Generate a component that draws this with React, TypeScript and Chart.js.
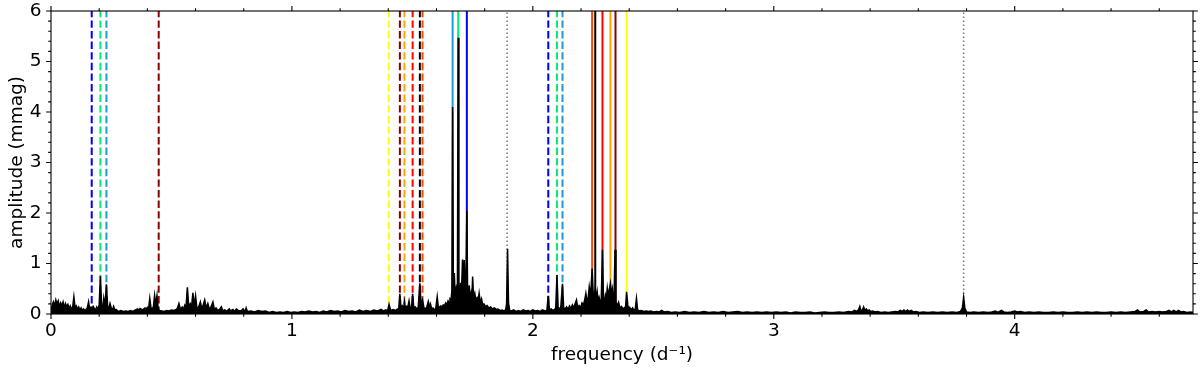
import React, { useEffect, useRef } from "react";
import { Chart, registerables } from "chart.js";

Chart.register(...registerables);

// ---------- axis ranges / tick labels ----------
const X_MIN = 0;
const X_MAX = 4.74;
const Y_MIN = 0;
const Y_MAX = 6;
const xTickValues = [0, 1, 2, 3, 4];
const yTickValues = [0, 1, 2, 3, 4, 5, 6];
const xTitle = "frequency (d\u207B\u00B9)";
const yTitle = "amplitude (mmag)";

// ---------- amplitude spectrum [frequency, amplitude] ----------
const spectrumLow: [number, number][] = [
  [0.000, 0.05], [0.005, 0.18], [0.010, 0.24], [0.015, 0.16], [0.020, 0.28], [0.025, 0.20],
  [0.030, 0.26], [0.035, 0.14], [0.040, 0.22], [0.045, 0.17], [0.050, 0.24], [0.055, 0.12],
  [0.060, 0.21], [0.065, 0.15], [0.070, 0.19], [0.075, 0.11], [0.080, 0.16], [0.085, 0.09],
  [0.090, 0.14], [0.095, 0.34], [0.100, 0.12], [0.105, 0.16], [0.110, 0.10], [0.115, 0.14],
  [0.120, 0.08], [0.125, 0.12], [0.130, 0.07], [0.135, 0.10], [0.140, 0.07], [0.145, 0.09],
  [0.150, 0.11], [0.156, 0.24], [0.160, 0.10], [0.165, 0.13], [0.170, 0.09], [0.175, 0.15],
  [0.180, 0.11], [0.185, 0.08], [0.190, 0.14], [0.195, 0.10], [0.200, 0.18], [0.205, 0.75],
  [0.210, 0.16], [0.215, 0.12], [0.219, 0.31], [0.224, 0.14], [0.230, 0.59], [0.235, 0.16],
  [0.240, 0.10], [0.245, 0.21], [0.250, 0.12], [0.255, 0.08], [0.260, 0.15], [0.265, 0.07],
  [0.270, 0.09], [0.280, 0.05], [0.290, 0.07], [0.300, 0.05], [0.310, 0.06], [0.320, 0.05],
  [0.330, 0.07], [0.340, 0.05], [0.350, 0.08], [0.360, 0.10], [0.365, 0.07], [0.370, 0.11],
  [0.380, 0.08], [0.390, 0.12], [0.395, 0.09], [0.400, 0.13], [0.405, 0.10], [0.410, 0.31],
  [0.415, 0.12], [0.420, 0.10], [0.425, 0.14], [0.430, 0.37], [0.435, 0.18], [0.440, 0.36],
  [0.445, 0.10], [0.450, 0.07], [0.460, 0.06], [0.470, 0.05], [0.480, 0.07], [0.490, 0.06],
  [0.500, 0.08], [0.510, 0.07], [0.520, 0.09], [0.525, 0.12], [0.531, 0.21], [0.537, 0.10],
  [0.545, 0.14], [0.550, 0.09], [0.555, 0.17], [0.560, 0.12], [0.566, 0.53], [0.572, 0.14],
  [0.578, 0.20], [0.583, 0.12], [0.589, 0.42], [0.594, 0.15], [0.600, 0.36], [0.605, 0.14],
  [0.610, 0.10], [0.615, 0.17], [0.620, 0.24], [0.625, 0.12], [0.630, 0.16], [0.638, 0.28],
  [0.644, 0.12], [0.651, 0.21], [0.657, 0.10], [0.664, 0.14], [0.672, 0.24], [0.678, 0.09],
  [0.685, 0.12], [0.692, 0.07], [0.700, 0.09], [0.707, 0.14], [0.714, 0.06], [0.720, 0.08],
  [0.730, 0.06], [0.740, 0.10], [0.745, 0.06], [0.755, 0.09], [0.760, 0.05], [0.770, 0.10],
  [0.780, 0.06], [0.790, 0.07], [0.797, 0.10], [0.805, 0.05], [0.810, 0.12], [0.815, 0.05],
];

const spectrumQuiet: [number, number][] = [
  [0.830, 0.06], [0.845, 0.04], [0.860, 0.07], [0.875, 0.05], [0.890, 0.06], [0.905, 0.03],
  [0.920, 0.05], [0.935, 0.03], [0.950, 0.04], [0.965, 0.03], [0.980, 0.05], [0.995, 0.03],
  [1.010, 0.04], [1.025, 0.03], [1.040, 0.05], [1.055, 0.04], [1.070, 0.06], [1.085, 0.04],
  [1.100, 0.05], [1.115, 0.03], [1.130, 0.06], [1.145, 0.04], [1.160, 0.07], [1.175, 0.05],
  [1.190, 0.06], [1.205, 0.04], [1.220, 0.07], [1.235, 0.05], [1.250, 0.06], [1.265, 0.04],
  [1.280, 0.08], [1.295, 0.05], [1.310, 0.07], [1.325, 0.05], [1.340, 0.08], [1.355, 0.06],
  [1.370, 0.09], [1.380, 0.06], [1.390, 0.08], [1.397, 0.06],
];

const spectrumActive: [number, number][] = [
  [1.403, 0.19], [1.410, 0.07], [1.420, 0.09], [1.430, 0.07], [1.438, 0.10], [1.443, 0.08],
  [1.448, 0.40], [1.453, 0.12], [1.458, 0.16], [1.463, 0.10], [1.467, 0.25], [1.471, 0.12],
  [1.476, 0.15], [1.480, 0.11], [1.486, 0.26], [1.491, 0.10], [1.496, 0.12], [1.501, 0.40],
  [1.506, 0.11], [1.512, 0.14], [1.518, 0.10], [1.524, 0.13], [1.531, 0.61], [1.536, 0.18],
  [1.542, 0.28], [1.548, 0.12], [1.554, 0.10], [1.560, 0.14], [1.566, 0.25], [1.571, 0.14],
  [1.575, 0.20], [1.580, 0.10], [1.586, 0.12], [1.592, 0.08], [1.597, 0.11], [1.603, 0.34],
  [1.608, 0.12], [1.613, 0.14], [1.618, 0.16], [1.623, 0.13], [1.628, 0.18], [1.633, 0.16],
  [1.638, 0.22], [1.643, 0.19], [1.648, 0.26], [1.652, 0.22], [1.656, 0.30], [1.660, 0.28],
  [1.664, 0.45], [1.667, 4.10], [1.670, 0.55], [1.674, 0.81], [1.677, 0.40], [1.681, 0.50],
  [1.684, 0.35], [1.687, 0.60], [1.690, 5.47], [1.693, 0.55], [1.697, 0.38], [1.700, 0.62],
  [1.704, 0.45], [1.708, 1.08], [1.711, 0.50], [1.715, 1.07], [1.719, 0.45], [1.722, 0.60],
  [1.726, 2.04], [1.729, 0.50], [1.733, 0.38], [1.736, 0.57], [1.740, 0.34], [1.744, 0.42],
  [1.747, 0.30], [1.750, 0.74], [1.754, 0.33], [1.759, 0.41], [1.763, 0.28], [1.768, 0.32],
  [1.772, 0.24], [1.777, 0.41], [1.782, 0.22], [1.787, 0.30], [1.792, 0.18], [1.797, 0.20],
  [1.803, 0.15], [1.810, 0.17], [1.817, 0.12], [1.825, 0.14], [1.832, 0.10], [1.840, 0.12],
  [1.848, 0.09], [1.856, 0.10], [1.864, 0.07], [1.872, 0.08], [1.880, 0.06], [1.887, 0.08],
  [1.891, 0.20], [1.895, 1.29], [1.899, 0.22], [1.904, 0.07], [1.912, 0.06], [1.920, 0.08],
  [1.930, 0.05], [1.940, 0.07], [1.950, 0.05], [1.960, 0.08], [1.970, 0.06], [1.980, 0.07],
  [1.990, 0.05], [2.000, 0.08], [2.010, 0.06], [2.020, 0.07], [2.030, 0.05], [2.040, 0.08],
  [2.050, 0.06], [2.058, 0.07], [2.064, 0.36], [2.069, 0.08], [2.076, 0.10], [2.083, 0.07],
  [2.090, 0.09], [2.095, 0.12], [2.100, 0.77], [2.105, 0.13], [2.110, 0.10], [2.116, 0.14],
  [2.123, 0.60], [2.128, 0.12], [2.134, 0.10], [2.140, 0.14], [2.146, 0.09], [2.152, 0.16],
  [2.158, 0.11], [2.164, 0.18], [2.170, 0.12], [2.175, 0.20], [2.181, 0.28], [2.186, 0.14],
  [2.192, 0.17], [2.198, 0.12], [2.204, 0.22], [2.210, 0.18], [2.216, 0.30], [2.220, 0.41],
  [2.225, 0.24], [2.230, 0.34], [2.234, 0.54], [2.238, 0.40], [2.242, 0.55], [2.246, 0.90],
  [2.250, 0.45], [2.254, 0.32], [2.259, 0.50], [2.263, 0.30], [2.267, 0.44], [2.271, 0.26],
  [2.275, 0.33], [2.280, 0.22], [2.284, 0.30], [2.289, 1.27], [2.293, 0.30], [2.297, 0.24],
  [2.301, 0.37], [2.305, 0.28], [2.309, 0.51], [2.313, 0.36], [2.317, 0.48], [2.322, 0.61],
  [2.326, 0.40], [2.330, 0.50], [2.334, 0.22], [2.337, 0.30], [2.341, 1.27], [2.345, 0.25],
  [2.350, 0.15], [2.356, 0.23], [2.362, 0.12], [2.368, 0.15], [2.374, 0.10], [2.380, 0.12],
  [2.385, 0.15], [2.389, 0.44], [2.394, 0.18], [2.398, 0.10], [2.402, 0.13], [2.408, 0.08],
  [2.414, 0.12], [2.420, 0.07], [2.425, 0.10], [2.430, 0.31], [2.435, 0.08], [2.442, 0.06],
  [2.450, 0.07], [2.460, 0.05], [2.470, 0.06], [2.480, 0.05], [2.490, 0.06], [2.500, 0.04],
  [2.515, 0.05], [2.525, 0.04], [2.534, 0.07], [2.545, 0.04], [2.560, 0.05], [2.575, 0.03],
];

const spectrumHigh: [number, number][] = [
  [2.590, 0.04], [2.610, 0.03], [2.630, 0.05], [2.650, 0.03], [2.670, 0.04], [2.690, 0.03],
  [2.710, 0.05], [2.730, 0.03], [2.750, 0.04], [2.770, 0.03], [2.790, 0.05], [2.810, 0.03],
  [2.830, 0.04], [2.850, 0.05], [2.870, 0.03], [2.890, 0.04], [2.910, 0.03], [2.930, 0.04],
  [2.950, 0.03], [2.970, 0.04], [2.990, 0.03], [3.010, 0.04], [3.030, 0.03], [3.050, 0.04],
  [3.070, 0.02], [3.090, 0.04], [3.110, 0.03], [3.130, 0.03], [3.150, 0.04], [3.170, 0.02],
  [3.190, 0.03], [3.210, 0.04], [3.230, 0.03], [3.250, 0.03], [3.270, 0.04], [3.290, 0.03],
  [3.310, 0.05], [3.325, 0.04], [3.335, 0.07], [3.345, 0.05], [3.352, 0.09], [3.357, 0.15],
  [3.362, 0.06], [3.368, 0.08], [3.373, 0.14], [3.378, 0.07], [3.384, 0.10], [3.390, 0.06],
  [3.396, 0.08], [3.402, 0.05], [3.410, 0.06], [3.420, 0.04], [3.430, 0.05], [3.445, 0.03],
  [3.460, 0.04], [3.475, 0.03], [3.490, 0.04], [3.505, 0.05], [3.515, 0.04], [3.525, 0.07],
  [3.533, 0.05], [3.540, 0.08], [3.548, 0.05], [3.555, 0.08], [3.562, 0.05], [3.570, 0.07],
  [3.580, 0.04], [3.590, 0.05], [3.605, 0.03], [3.620, 0.04], [3.640, 0.03], [3.660, 0.04],
  [3.680, 0.03], [3.700, 0.04], [3.720, 0.03], [3.740, 0.04], [3.760, 0.03], [3.775, 0.05],
  [3.783, 0.12], [3.788, 0.33], [3.793, 0.12], [3.800, 0.04], [3.815, 0.03], [3.830, 0.04],
  [3.850, 0.03], [3.870, 0.04], [3.890, 0.03], [3.905, 0.04], [3.920, 0.06], [3.930, 0.03],
  [3.945, 0.07], [3.955, 0.04], [3.970, 0.03], [3.985, 0.04], [4.000, 0.06], [4.010, 0.04],
  [4.025, 0.05], [4.040, 0.03], [4.060, 0.04], [4.080, 0.03], [4.100, 0.04], [4.120, 0.03],
  [4.140, 0.03], [4.160, 0.04], [4.180, 0.03], [4.200, 0.04], [4.220, 0.03], [4.240, 0.03],
  [4.260, 0.04], [4.280, 0.03], [4.300, 0.04], [4.320, 0.03], [4.340, 0.04], [4.360, 0.03],
  [4.380, 0.03], [4.400, 0.04], [4.420, 0.03], [4.440, 0.04], [4.460, 0.03], [4.480, 0.04],
  [4.500, 0.05], [4.510, 0.08], [4.520, 0.04], [4.535, 0.05], [4.546, 0.08], [4.555, 0.04],
  [4.570, 0.05], [4.585, 0.04], [4.600, 0.05], [4.615, 0.04], [4.630, 0.05], [4.640, 0.07],
  [4.650, 0.04], [4.660, 0.07], [4.670, 0.04], [4.680, 0.07], [4.690, 0.04], [4.700, 0.05],
  [4.715, 0.03], [4.730, 0.04], [4.740, 0.03],
];

// ---------- marked frequencies ----------
const dashedFreqs = [0.169, 0.205, 0.230, 0.447, 1.402, 1.448, 1.467, 1.501, 1.531, 1.542, 2.064, 2.100, 2.123];
const dashedColors = ["#0000ff", "#00ee76", "#1e9ad6", "#8b0000", "#ffff00", "#8b0000", "#ffa500", "#ff0000", "#000000", "#ff4500", "#0000ff", "#00ee76", "#1e9ad6"];
const solidFreqs = [1.667, 1.690, 1.726, 2.246, 2.259, 2.289, 2.322, 2.343, 2.389];
const solidColors = ["#1e9ad6", "#00ee76", "#0000ff", "#ff4500", "#000000", "#ff0000", "#ffa500", "#8b0000", "#ffff00"];
const dottedFreqs = [1.893, 3.788];

const FONT = "'DejaVu Sans', sans-serif";
const FONT_SIZE = 18.5;

const frameTicksPlugin = {
  id: "frameTicks",
  afterDraw(chart: any) {
    const { ctx, chartArea: a, scales } = chart;
    const x = scales.x;
    const y = scales.y;
    ctx.save();
    ctx.strokeStyle = "#000";
    ctx.lineWidth = 1.1;
    ctx.strokeRect(a.left, a.top, a.right - a.left, a.bottom - a.top);
    ctx.beginPath();
    const nx = Math.floor(X_MAX * 5 + 1e-6);
    for (let i = 0; i <= nx; i++) {
      const px = x.getPixelForValue(i / 5);
      const len = i % 5 === 0 ? 4.9 : 2.8;
      ctx.moveTo(px, a.bottom);
      ctx.lineTo(px, a.bottom + len);
      ctx.moveTo(px, a.top);
      ctx.lineTo(px, a.top - len);
    }
    const ny = Math.round(Y_MAX * 5);
    for (let i = 0; i <= ny; i++) {
      const py = y.getPixelForValue(i / 5);
      const len = i % 5 === 0 ? 4.9 : 2.8;
      ctx.moveTo(a.left, py);
      ctx.lineTo(a.left - len, py);
      ctx.moveTo(a.right, py);
      ctx.lineTo(a.right + len, py);
    }
    ctx.stroke();
    ctx.restore();
  },
};

function vline(f: number) {
  return [
    { x: f, y: Y_MIN },
    { x: f, y: Y_MAX },
  ];
}

export default function App() {
  const canvasRef = useRef<HTMLCanvasElement | null>(null);

  useEffect(() => {
    document.body.style.margin = "0";
    const canvas = canvasRef.current;
    if (!canvas) return;

    const spectrum = [...spectrumLow, ...spectrumQuiet, ...spectrumActive, ...spectrumHigh].map(([f, a]) => ({ x: f, y: a }));

    const datasets: any[] = [
      {
        label: "spectrum",
        data: spectrum,
        showLine: true,
        borderColor: "#000000",
        backgroundColor: "#000000",
        borderWidth: 1.5,
        pointRadius: 0,
        fill: "origin",
        order: 0,
      },
    ];
    solidFreqs.forEach((f, i) => {
      datasets.push({
        label: "solid" + i,
        data: vline(f),
        showLine: true,
        borderColor: solidColors[i],
        borderWidth: 2,
        pointRadius: 0,
        fill: false,
        order: 1,
      });
    });
    dashedFreqs.forEach((f, i) => {
      datasets.push({
        label: "dashed" + i,
        data: vline(f),
        showLine: true,
        borderColor: dashedColors[i],
        borderWidth: 2,
        borderDash: [7.4, 3.2],
        pointRadius: 0,
        fill: false,
        order: 2,
      });
    });
    dottedFreqs.forEach((f, i) => {
      datasets.push({
        label: "dotted" + i,
        data: vline(f),
        showLine: true,
        borderColor: "#808080",
        borderWidth: 1.6,
        borderDash: [1.6, 2.4],
        pointRadius: 0,
        fill: false,
        order: 3,
      });
    });

    const chart = new Chart(canvas, {
      type: "scatter",
      data: { datasets },
      options: {
        responsive: false,
        animation: false,
        devicePixelRatio: 1,
        layout: { padding: { top: 11, right: 7, left: 0, bottom: 0 } },
        plugins: {
          legend: { display: false },
          tooltip: { enabled: false },
        },
        elements: { line: { tension: 0 } },
        scales: {
          x: {
            type: "linear",
            min: X_MIN,
            max: X_MAX,
            grid: { display: false, drawTicks: false },
            border: { display: false },
            afterBuildTicks: (scale: any) => {
              scale.ticks = xTickValues.map((v) => ({ value: v }));
            },
            afterFit: (scale: any) => {
              scale.height = 54;
              scale.paddingLeft = 0;
              scale.paddingRight = 0;
            },
            ticks: {
              color: "#000",
              padding: 6.5,
              maxRotation: 0,
              font: { family: FONT, size: FONT_SIZE },
              callback: (v: any) => String(v),
            },
            title: {
              display: true,
              text: xTitle,
              color: "#000",
              font: { family: FONT, size: FONT_SIZE },
              padding: { top: 2, bottom: 2 },
            },
          },
          y: {
            type: "linear",
            min: Y_MIN,
            max: Y_MAX,
            grid: { display: false, drawTicks: false },
            border: { display: false },
            afterBuildTicks: (scale: any) => {
              scale.ticks = yTickValues.map((v) => ({ value: v }));
            },
            afterFit: (scale: any) => {
              scale.width = 51;
              scale.paddingTop = 0;
              scale.paddingBottom = 0;
            },
            ticks: {
              color: "#000",
              padding: 9.5,
              font: { family: FONT, size: FONT_SIZE },
              callback: (v: any) => String(v),
            },
            title: {
              display: true,
              text: yTitle,
              color: "#000",
              font: { family: FONT, size: FONT_SIZE },
              padding: { top: 6, bottom: 6 },
            },
          },
        },
      },
      plugins: [frameTicksPlugin],
    } as any);

    return () => chart.destroy();
  }, []);

  return (
    <div style={{ position: "absolute", left: 0, top: 0, width: 1200, height: 368, background: "#fff" }}>
      <canvas ref={canvasRef} width={1200} height={368} style={{ display: "block" }} />
    </div>
  );
}
